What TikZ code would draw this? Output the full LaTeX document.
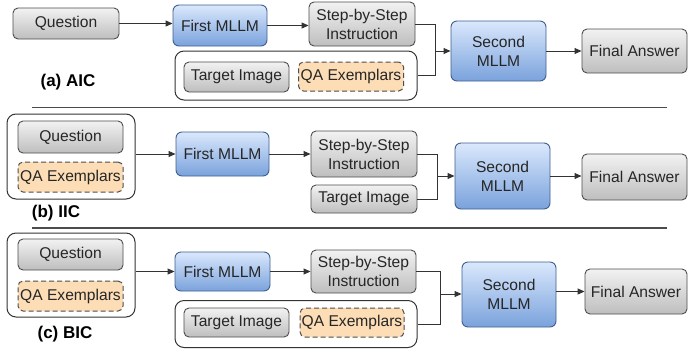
\documentclass[tikz,border=0pt]{standalone}
\usepackage{fontspec}
\setmainfont{Liberation Sans}
\usetikzlibrary{arrows.meta}
\definecolor{gtop}{HTML}{F2F2F2}
\definecolor{gbot}{HTML}{BEBEBE}
\definecolor{btop}{HTML}{DAE8FC}
\definecolor{bbot}{HTML}{7AA2DC}
\definecolor{oqa}{HTML}{FCDDB6}
\definecolor{edge}{HTML}{4D4D4D}
\definecolor{benge}{HTML}{3F5F8F}
\definecolor{txt}{HTML}{262626}
\begin{document}
\begin{tikzpicture}[x=1pt,y=-1pt,
  every node/.style={font=\fontsize{15.6}{19}\selectfont, text=txt, inner sep=0pt, align=center},
  gbox/.style={draw=edge, line width=0.9pt, rounded corners=5pt, top color=gtop, bottom color=gbot},
  bbox/.style={draw=benge, line width=0.9pt, rounded corners=6pt, top color=btop, bottom color=bbot},
  qbox/.style={draw=edge, line width=1pt, dashed, dash pattern=on 5pt off 3pt, rounded corners=5pt, fill=oqa},
  obox/.style={draw=black!80, line width=1pt, rounded corners=9pt, fill=white},
  sz/.style 2 args={minimum width=#1pt, minimum height=#2pt},
  conn/.style={draw=black!80, line width=0.9pt},
  arr/.style={conn, -{Triangle[length=7pt,width=6pt]}},
  lab/.style={font=\fontsize{17}{19}\selectfont\bfseries, text=black},
  sep/.style={draw=black!70, line width=1.1pt}]
\useasboundingbox (0,0) rectangle (688,349);

% ---------- (a) AIC ----------
\node[gbox, sz={106}{31}] (qa) at (66,23.5) {Question};
\node[bbox, sz={94}{41}] (fa) at (220,25.5) {First MLLM};
\node[gbox, sz={106}{44}] (sa) at (362,24) {Step-by-Step\\Instruction};
\node[obox, sz={242}{49}] (oa) at (296,75.5) {};
\node[gbox, sz={105}{30}] (ta) at (236.5,77) {Target Image};
\node[qbox, sz={105}{29}] (ea) at (351,76.5) {QA Exemplars};
\node[bbox, sz={95}{60}] (ma) at (498.5,51) {Second\\MLLM};
\node[gbox, sz={105}{44}] (ra) at (634.5,51) {Final Answer};
\node[lab] (la) at (68,82) {(a) AIC};
\coordinate (ja) at (435,51);
\draw[arr] (qa.east) -- (qa.east -| fa.west);
\draw[arr] (fa.east) -- (fa.east -| sa.west);
\draw[conn] (sa.east) -| (ja);
\draw[conn] (oa.east) -| (ja);
\draw[arr] (ja) -- (ma.west);
\draw[arr] (ma.east) -- (ma.east -| ra.west);
\coordinate (s1l) at (32,107.5);
\coordinate (s1r) at (667,107.5);
\draw[sep] (s1l) -- (s1r);

% ---------- (b) IIC ----------
\node[obox, sz={128}{85}] (ob) at (71,156.5) {};
\node[gbox, sz={105}{32}] (qb) at (70.5,137) {Question};
\node[qbox, sz={105}{30}] (eb) at (70.5,177) {QA Exemplars};
\node[bbox, sz={93}{44}] (fb) at (222.5,154) {First MLLM};
\node[gbox, sz={106}{46}] (sb) at (364,154) {Step-by-Step\\Instruction};
\node[gbox, sz={106}{28}] (tb) at (364,199) {Target Image};
\node[bbox, sz={95}{66}] (mb) at (502.5,176) {Second\\MLLM};
\node[gbox, sz={105}{46}] (rb) at (634.5,177) {Final Answer};
\node[lab] (lb) at (56,213) {(b) IIC};
\coordinate (jb) at (437,176);
\draw[arr] (ob.east |- fb.west) -- (fb.west);
\draw[arr] (fb.east) -- (fb.east -| sb.west);
\draw[conn] (sb.east) -| (jb);
\draw[conn] (tb.east) -| (jb);
\draw[arr] (jb) -- (jb -| mb.west);
\draw[arr] (mb.east) -- (mb.east -| rb.west);
\coordinate (s2l) at (32,228);
\coordinate (s2r) at (667,228);
\draw[sep] (s2l) -- (s2r);

% ---------- (c) BIC ----------
\node[obox, sz={128}{84}] (oc) at (71,275) {};
\node[gbox, sz={105}{31}] (qc) at (70.5,254.5) {Question};
\node[qbox, sz={105}{30}] (ec) at (70.5,296) {QA Exemplars};
\node[bbox, sz={95}{39}] (fc) at (222.5,271.5) {First MLLM};
\node[gbox, sz={105}{43}] (sc) at (363.5,271.5) {Step-by-Step\\Instruction};
\node[obox, sz={242}{47}] (oc2) at (296,324) {};
\node[gbox, sz={105}{29}] (tc) at (236.5,322.5) {Target Image};
\node[qbox, sz={104}{29}] (ecc) at (352,322.5) {QA Exemplars};
\node[bbox, sz={94}{65}] (mc) at (509,294.5) {Second\\MLLM};
\node[gbox, sz={102}{45}] (rc) at (636,291.5) {Final Answer};
\node[lab] (lc) at (65,334) {(c) BIC};
\coordinate (jc) at (440,294);
\draw[arr] (oc.east |- fc.west) -- (fc.west);
\draw[arr] (fc.east) -- (fc.east -| sc.west);
\draw[conn] (sc.east) -| (jc);
\draw[conn] (oc2.east) -| (jc);
\draw[arr] (jc) -- (jc -| mc.west);
\draw[arr] (mc.east |- rc.west) -- (rc.west);
\end{tikzpicture}
\end{document}
